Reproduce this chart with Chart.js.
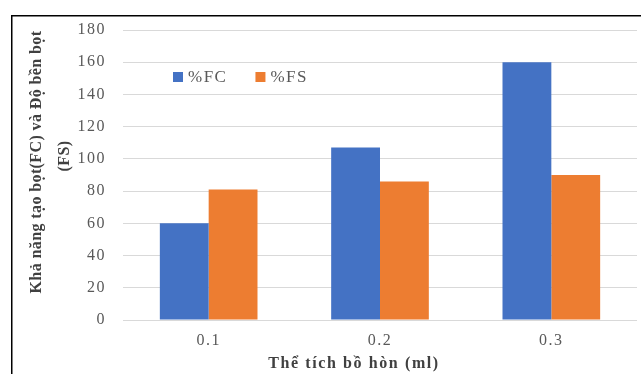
<!DOCTYPE html>
<html>
<head>
<meta charset="utf-8">
<script src="https://cdn.jsdelivr.net/npm/chart.js@4/dist/chart.umd.min.js"></script>
<style>
  html, body { margin: 0; padding: 0; background: #ffffff; }
  #wrap { width: 641px; height: 374px; position: relative; }
</style>
</head>
<body>
<div id="wrap"><canvas id="chart" width="641" height="374"></canvas></div>
<script>
// Foam capacity (FC) and foam stability (FS) versus soapberry volume
const categories = ['0.1', '0.2', '0.3'];
const fcValues = [60, 107, 160];
const fsValues = [81, 86, 90];
const seriesNames = ['%FC', '%FS'];
const yTitleLines = ['Khả năng tạo bọt(FC) và Độ bền bọt', '(FS)'];
const xTitle = 'Thể tích bồ hòn (ml)';

const SERIF = '"Liberation Serif", "Times New Roman", serif';
const BLUE = '#4472C4';
const ORANGE = '#ED7D31';
const TICK_SPACING = '1.5px';

// Wider tracking for the axis tick text, set before the scales measure it
const tracking = {
  id: 'tracking',
  beforeLayout(chart) { chart.ctx.letterSpacing = TICK_SPACING; },
  beforeDraw(chart) { chart.ctx.letterSpacing = TICK_SPACING; }
};

// Frame, axis titles and in-plot legend
const decorations = {
  id: 'decorations',
  beforeDraw(chart) {
    const ctx = chart.ctx;
    ctx.save();
    ctx.fillStyle = '#ffffff';
    ctx.fillRect(0, 0, chart.width, chart.height);
    ctx.fillStyle = '#000000';
    ctx.fillRect(11, 15, chart.width - 11, 1.5);
    ctx.fillRect(11, 15, 1.5, chart.height - 15);
    ctx.restore();
  },
  afterDraw(chart) {
    const ctx = chart.ctx;
    ctx.save();
    // y axis title
    ctx.fillStyle = '#404040';
    ctx.font = 'bold 16px ' + SERIF;
    ctx.textAlign = 'center';
    ctx.textBaseline = 'middle';
    ctx.letterSpacing = '0.4px';
    ctx.save();
    ctx.translate(37, 162);
    ctx.rotate(-Math.PI / 2);
    ctx.fillText(yTitleLines[0], 0, 0);
    ctx.restore();
    ctx.save();
    ctx.translate(65, 156);
    ctx.rotate(-Math.PI / 2);
    ctx.fillText(yTitleLines[1], 0, 0);
    ctx.restore();
    // x axis title
    ctx.letterSpacing = '1.6px';
    ctx.fillText(xTitle, 354, 364);
    // legend
    ctx.font = '17px ' + SERIF;
    ctx.letterSpacing = '1.5px';
    ctx.textAlign = 'left';
    let x = 173;
    const y = 77;
    chart.data.datasets.forEach(ds => {
      ctx.fillStyle = ds.backgroundColor;
      ctx.fillRect(x, y - 5, 10, 10);
      ctx.fillStyle = '#595959';
      ctx.fillText(ds.label, x + 15, y + 1);
      x += 15 + ctx.measureText(ds.label).width + 28;
    });
    ctx.letterSpacing = TICK_SPACING;
    ctx.restore();
  }
};

new Chart(document.getElementById('chart'), {
  type: 'bar',
  data: {
    labels: categories,
    datasets: [
      { label: seriesNames[0], data: fcValues, backgroundColor: BLUE },
      { label: seriesNames[1], data: fsValues, backgroundColor: ORANGE }
    ]
  },
  options: {
    responsive: false,
    animation: false,
    devicePixelRatio: 1,
    layout: { padding: { top: 30, right: 4, bottom: 0, left: 0 } },
    datasets: { bar: { categoryPercentage: 0.57, barPercentage: 1.0 } },
    plugins: {
      legend: { display: false },
      tooltip: { enabled: false }
    },
    scales: {
      x: {
        grid: { display: false, drawTicks: false },
        border: { display: false },
        ticks: { color: '#595959', font: { family: SERIF, size: 16 }, padding: 11 },
        afterFit(scale) { scale.height = 54; }
      },
      y: {
        min: 0,
        max: 180,
        ticks: { stepSize: 20, color: '#595959', font: { family: SERIF, size: 16 }, padding: 17 },
        grid: { color: '#d9d9d9', lineWidth: 1, drawTicks: false },
        border: { display: false },
        afterFit(scale) { scale.width = 123; }
      }
    }
  },
  plugins: [tracking, decorations]
});
</script>
</body>
</html>
